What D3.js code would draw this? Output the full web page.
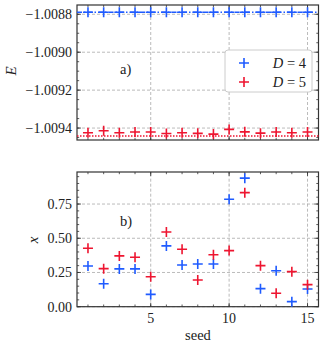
<!DOCTYPE html>
<html>
<head>
<meta charset="utf-8">
<script src="https://cdn.jsdelivr.net/npm/d3@7"></script>
<style>
  body { margin: 0; background: #fff; }
  svg text { font-family: "Liberation Serif", serif; }
</style>
</head>
<body>
<div id="chart"></div>
<script>
var seeds = [1, 2, 3, 4, 5, 6, 7, 8, 9, 10, 11, 12, 13, 14, 15];
var energyD4 = [-1.008789, -1.008789, -1.008789, -1.008789, -1.008789, -1.008789, -1.008789, -1.008789,
                -1.008789, -1.008789, -1.008789, -1.008789, -1.008789, -1.008789, -1.008789];
var energyD5 = [-1.009425, -1.009414, -1.009425, -1.009421, -1.009421, -1.009429, -1.009425, -1.009428,
                -1.009432, -1.009407, -1.00942, -1.009427, -1.009421, -1.009425, -1.009421];
var refD4 = -1.008789;
var refD5 = -1.009442;
var xD4 = [0.297, 0.168, 0.276, 0.276, 0.09, 0.444, 0.305, 0.312, 0.312, 0.785, 0.939, 0.132, 0.263, 0.037, 0.129];
var xD5 = [0.427, 0.278, 0.371, 0.361, 0.219, 0.546, 0.42, 0.195, 0.38, 0.41, 0.833, 0.3, 0.098, 0.256, 0.161];
var eTicks = [-1.0088, -1.0090, -1.0092, -1.0094];
var xTicks = [0, 0.25, 0.5, 0.75];
var seedTicks = [5, 10, 15];
var seriesNames = ["D = 4", "D = 5"];
var colors = ["#1f5bff", "#ee1530"];

var W = 324, H = 348;
var left = 77, right = 318.5;
var svg = d3.select("#chart").append("svg").attr("width", W).attr("height", H);

var x = d3.scaleLinear().domain([0.3, 15.7]).range([left, right]);
var yE = d3.scaleLinear().domain([-1.009463, -1.008751]).range([140, 5]);
var yX = d3.scaleLinear().domain([0, 0.984]).range([306.7, 172]);

function fmtMinus(s) { return s.replace("-", "\u2212"); }

function label(g, size) {
  return g.append("text").style("font-family", "'Liberation Serif', serif")
    .style("font-size", size + "px").attr("fill", "#222");
}

function panel(y, yTicks, yMinorStep, fmt) {
  var g = svg.append("g");
  var y0 = y.range()[0], y1 = y.range()[1];
  // grid
  g.selectAll(".gx").data(seedTicks).enter().append("line")
    .attr("x1", d => x(d)).attr("x2", d => x(d)).attr("y1", y0).attr("y2", y1)
    .attr("stroke", "#aaa").attr("stroke-width", 0.8).attr("stroke-dasharray", "3,2");
  g.selectAll(".gy").data(yTicks).enter().append("line")
    .attr("x1", left).attr("x2", right).attr("y1", d => y(d)).attr("y2", d => y(d))
    .attr("stroke", "#aaa").attr("stroke-width", 0.8).attr("stroke-dasharray", "3,2");
  // ticks, inward on all sides
  var dom = y.domain();
  var yMinor = d3.range(Math.ceil(dom[0] / yMinorStep) * yMinorStep, dom[1], yMinorStep);
  var xMinor = d3.range(1, 16);
  function tk(data, len, axis) {
    data.forEach(function (d) {
      if (axis === "x") {
        g.append("line").attr("x1", x(d)).attr("x2", x(d)).attr("y1", y0).attr("y2", y0 - len)
          .attr("stroke", "#333").attr("stroke-width", 0.8);
        g.append("line").attr("x1", x(d)).attr("x2", x(d)).attr("y1", y1).attr("y2", y1 + len)
          .attr("stroke", "#333").attr("stroke-width", 0.8);
      } else {
        g.append("line").attr("x1", left).attr("x2", left + len).attr("y1", y(d)).attr("y2", y(d))
          .attr("stroke", "#333").attr("stroke-width", 0.8);
        g.append("line").attr("x1", right).attr("x2", right - len).attr("y1", y(d)).attr("y2", y(d))
          .attr("stroke", "#333").attr("stroke-width", 0.8);
      }
    });
  }
  tk(xMinor, 2.2, "x");
  tk(seedTicks, 4, "x");
  tk(yMinor, 2.2, "y");
  tk(yTicks, 4, "y");
  // y tick labels
  yTicks.forEach(function (d) {
    label(g, 14).attr("x", left - 5).attr("y", y(d)).attr("dy", "0.35em")
      .attr("text-anchor", "end").text(fmtMinus(fmt(d)));
  });
  // frame
  g.append("rect").attr("x", left).attr("y", y1).attr("width", right - left).attr("height", y0 - y1)
    .attr("fill", "none").attr("stroke", "#333").attr("stroke-width", 1.2);
  return g;
}

function plus(g, cx, cy, color) {
  g.append("path").attr("d", "M" + (cx - 5) + "," + cy + "H" + (cx + 5) + "M" + cx + "," + (cy - 5) + "V" + (cy + 5))
    .attr("stroke", color).attr("stroke-width", 1.6).attr("fill", "none");
}

// top panel
var gA = panel(yE, eTicks, 0.00005, d3.format(".4f"));
gA.append("line").attr("x1", left).attr("x2", right).attr("y1", yE(refD4)).attr("y2", yE(refD4))
  .attr("stroke", colors[0]).attr("stroke-width", 1.4).attr("stroke-dasharray", "5,2,1.5,2");
gA.append("line").attr("x1", left).attr("x2", right).attr("y1", yE(refD5)).attr("y2", yE(refD5))
  .attr("stroke", colors[1]).attr("stroke-width", 1.4).attr("stroke-dasharray", "1.5,1.5");
seeds.forEach(function (s, i) {
  plus(gA, x(s), yE(energyD4[i]), colors[0]);
  plus(gA, x(s), yE(energyD5[i]), colors[1]);
});
label(gA, 14.5).attr("x", 120).attr("y", 74).text("a)");
label(svg, 15).attr("transform", "translate(16,71) rotate(-90)")
  .attr("text-anchor", "middle").style("font-style", "italic").text("E");

// legend
var lg = svg.append("g");
lg.append("rect").attr("x", 225).attr("y", 50).attr("width", 87).attr("height", 42).attr("rx", 3)
  .attr("fill", "#fff").attr("stroke", "#ccc").attr("stroke-width", 1);
seriesNames.forEach(function (n, i) {
  var ly = 63 + i * 19;
  plus(lg, 244, ly, colors[i]);
  var t = label(lg, 14.5).attr("x", 306).attr("y", ly).attr("dy", "0.35em").attr("text-anchor", "end");
  t.append("tspan").style("font-style", "italic").text(n.split(" = ")[0]);
  t.append("tspan").text(" = " + n.split(" = ")[1]);
});

// bottom panel
var gB = panel(yX, xTicks, 0.05, d3.format(".2f"));
seeds.forEach(function (s, i) {
  plus(gB, x(s), yX(xD4[i]), colors[0]);
  plus(gB, x(s), yX(xD5[i]), colors[1]);
});
seedTicks.forEach(function (d) {
  label(gB, 14).attr("x", x(d)).attr("y", 323).attr("text-anchor", "middle").text(d);
});
label(gB, 14.5).attr("x", 120).attr("y", 226).text("b)");
label(svg, 15).attr("transform", "translate(38,240) rotate(-90)")
  .attr("text-anchor", "middle").style("font-style", "italic").text("x");
label(svg, 14.5).attr("x", 198).attr("y", 340).attr("text-anchor", "middle").text("seed");
</script>
</body>
</html>
